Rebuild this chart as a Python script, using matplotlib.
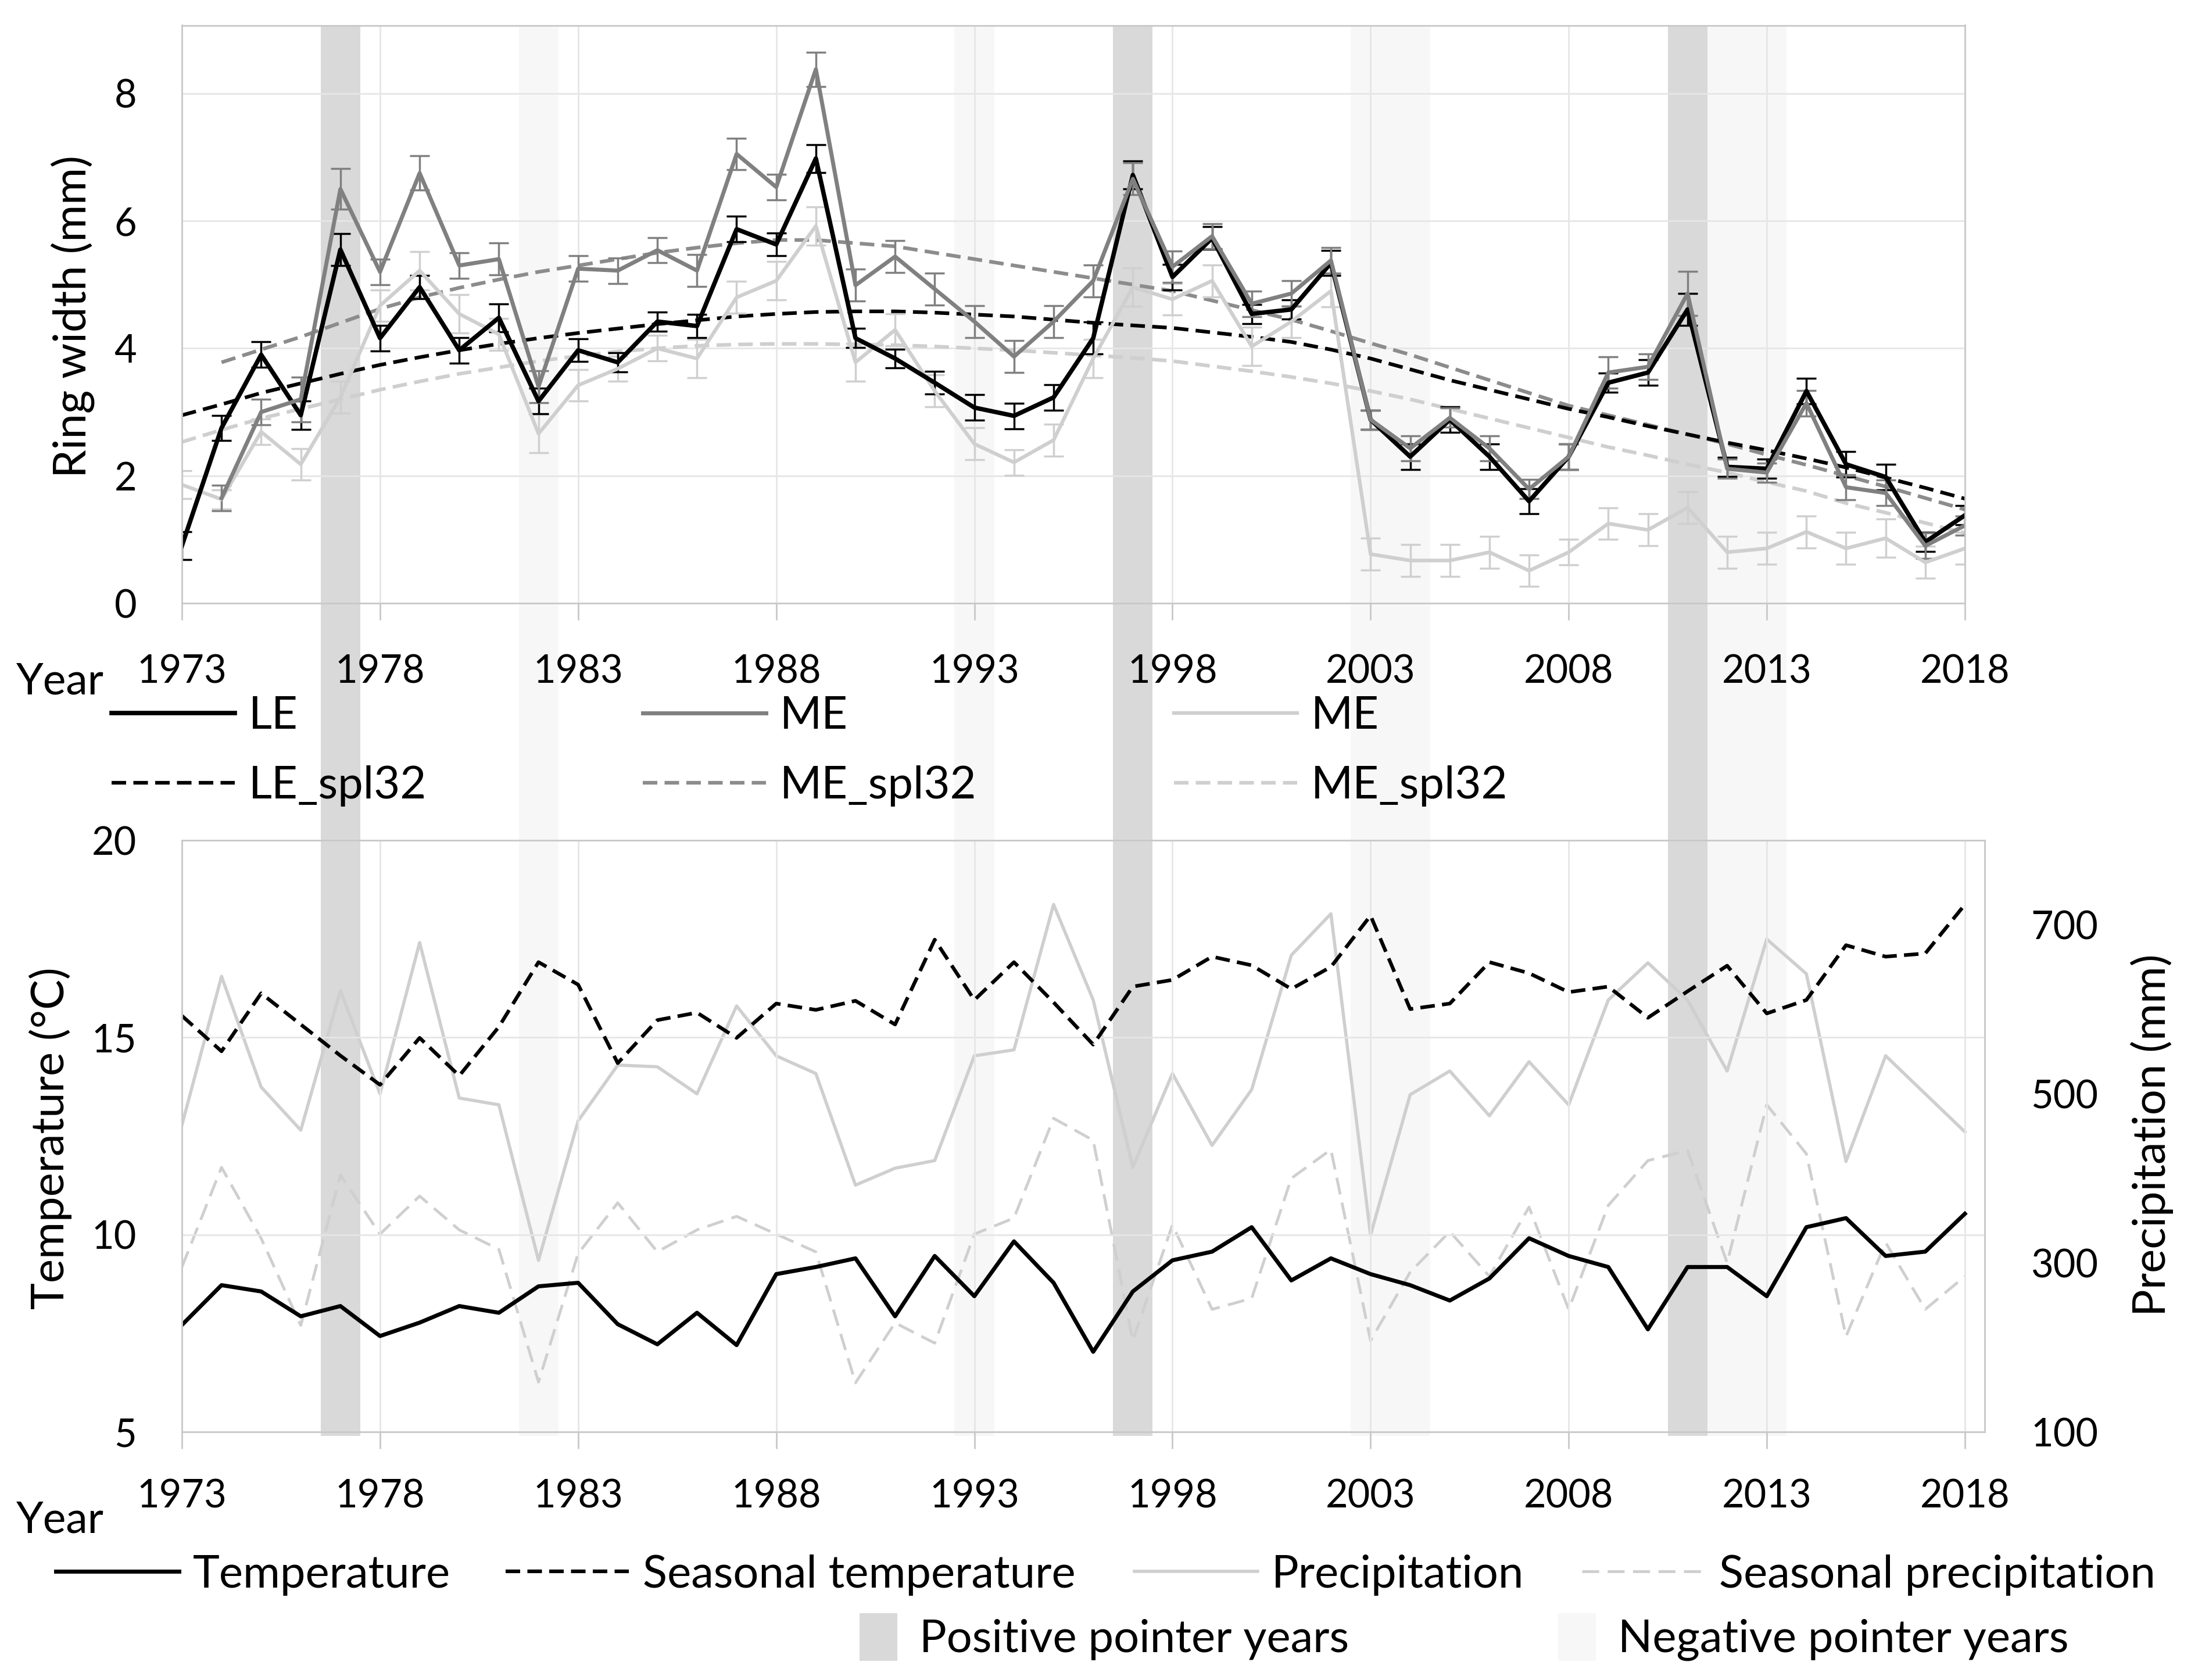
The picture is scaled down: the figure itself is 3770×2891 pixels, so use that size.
import numpy as np
import matplotlib.pyplot as plt
from matplotlib.lines import Line2D
from matplotlib.patches import Patch

plt.rcParams['font.family'] = ['Lato', 'DejaVu Sans']

W, H = 3770, 2891
FS = 48      # tick labels
FL = 56      # legend and axis titles

years = np.arange(1973, 2019)

# ring width (mm)
LE = [0.9, 2.75, 3.9, 2.95, 5.55, 4.16, 4.96, 3.97, 4.48, 3.17, 3.97, 3.78, 4.42, 4.35, 5.87,
      5.63, 6.98, 4.16, 3.84, 3.46, 3.07, 2.94, 3.23, 4.16, 6.72, 5.12, 5.73, 4.54, 4.61, 5.34,
      2.88, 2.3, 2.88, 2.3, 1.6, 2.3, 3.46, 3.62, 4.61, 2.14, 2.11, 3.33, 2.18, 1.98, 0.96, 1.38]
LE_err = [0.22, 0.2, 0.2, 0.22, 0.25, 0.2, 0.18, 0.2, 0.22, 0.2, 0.18, 0.15, 0.15, 0.18, 0.2,
          0.18, 0.22, 0.15, 0.15, 0.18, 0.2, 0.2, 0.2, 0.25, 0.22, 0.2, 0.18, 0.15, 0.15, 0.2,
          0.15, 0.2, 0.2, 0.2, 0.2, 0.2, 0.15, 0.2, 0.25, 0.15, 0.15, 0.2, 0.2, 0.2, 0.15, 0.15]
ME = [np.nan, 1.65, 3.0, 3.2, 6.5, 5.2, 6.75, 5.3, 5.4, 3.4, 5.25, 5.22, 5.54, 5.22, 7.05,
      6.53, 8.38, 4.99, 5.44, 4.93, 4.42, 3.87, 4.42, 5.06, 6.66, 5.28, 5.76, 4.7, 4.86, 5.38,
      2.88, 2.43, 2.91, 2.43, 1.79, 2.3, 3.62, 3.71, 4.86, 2.11, 2.05, 3.14, 1.82, 1.73, 0.9, 1.22]
ME_err = [0.0, 0.2, 0.2, 0.35, 0.32, 0.2, 0.27, 0.2, 0.25, 0.25, 0.2, 0.2, 0.2, 0.25, 0.25,
          0.2, 0.27, 0.25, 0.25, 0.25, 0.25, 0.25, 0.25, 0.25, 0.25, 0.25, 0.2, 0.2, 0.2, 0.2,
          0.15, 0.2, 0.15, 0.2, 0.15, 0.2, 0.25, 0.2, 0.35, 0.15, 0.15, 0.2, 0.2, 0.2, 0.2, 0.15]
ME2 = [1.86, 1.63, 2.69, 2.18, 3.23, 4.67, 5.22, 4.54, 4.22, 2.66, 3.42, 3.68, 4.0, 3.84, 4.8,
       5.06, 5.92, 3.78, 4.29, 3.33, 2.5, 2.21, 2.56, 3.84, 4.96, 4.77, 5.06, 4.03, 4.42, 4.9,
       0.77, 0.67, 0.67, 0.8, 0.51, 0.8, 1.25, 1.15, 1.5, 0.8, 0.86, 1.12, 0.86, 1.02, 0.64, 0.86]
ME2_err = [0.22, 0.15, 0.2, 0.25, 0.25, 0.25, 0.3, 0.3, 0.25, 0.3, 0.25, 0.2, 0.2, 0.3, 0.25,
           0.3, 0.3, 0.3, 0.25, 0.25, 0.25, 0.2, 0.25, 0.3, 0.3, 0.25, 0.25, 0.3, 0.25, 0.25,
           0.25, 0.25, 0.25, 0.25, 0.25, 0.2, 0.25, 0.25, 0.25, 0.25, 0.25, 0.25, 0.25, 0.3, 0.25, 0.25]

# 32-year splines
LE_spl = [2.95, 3.12, 3.3, 3.45, 3.6, 3.74, 3.86, 3.97, 4.07, 4.16, 4.24, 4.31, 4.38, 4.44, 4.5,
          4.54, 4.57, 4.58, 4.58, 4.56, 4.53, 4.5, 4.45, 4.4, 4.36, 4.32, 4.25, 4.18, 4.1, 3.98,
          3.84, 3.67, 3.5, 3.35, 3.2, 3.05, 2.92, 2.78, 2.65, 2.52, 2.4, 2.27, 2.13, 1.97, 1.81, 1.64]
ME_spl = [np.nan, 3.78, 3.98, 4.18, 4.4, 4.62, 4.8, 4.95, 5.08, 5.2, 5.3, 5.4, 5.5, 5.58, 5.65,
          5.7, 5.7, 5.65, 5.6, 5.5, 5.4, 5.3, 5.2, 5.1, 5.0, 4.9, 4.75, 4.6, 4.45, 4.27,
          4.08, 3.9, 3.7, 3.5, 3.3, 3.1, 2.95, 2.8, 2.65, 2.5, 2.33, 2.17, 2.0, 1.83, 1.65, 1.47]
ME2_spl = [2.53, 2.72, 2.9, 3.05, 3.2, 3.35, 3.48, 3.6, 3.7, 3.8, 3.88, 3.95, 4.0, 4.04, 4.06,
           4.07, 4.07, 4.06, 4.05, 4.03, 4.0, 3.97, 3.93, 3.89, 3.85, 3.8, 3.72, 3.64, 3.55, 3.45,
           3.33, 3.2, 3.05, 2.9, 2.75, 2.6, 2.45, 2.32, 2.18, 2.05, 1.9, 1.76, 1.57, 1.42, 1.26, 1.1]

# climate
temp = [7.71, 8.72, 8.56, 7.93, 8.19, 7.43, 7.77, 8.19, 8.02, 8.69, 8.78, 7.73, 7.22, 8.02, 7.2,
        9.0, 9.18, 9.4, 7.93, 9.46, 8.44, 9.83, 8.78, 7.03, 8.56, 9.35, 9.57, 10.19, 8.84, 9.4,
        9.0, 8.72, 8.33, 8.89, 9.91, 9.46, 9.18, 7.6, 9.18, 9.18, 8.44, 10.19, 10.42, 9.46, 9.57, 10.53]
temp_seas = [15.55, 14.65, 16.12, 15.33, 14.54, 13.8, 14.99, 14.03, 15.27, 16.91, 16.34, 14.35, 15.44, 15.63, 14.99,
             15.86, 15.7, 15.93, 15.33, 17.48, 15.95, 16.91, 15.89, 14.82, 16.29, 16.46, 17.05, 16.83, 16.23, 16.79,
             18.09, 15.72, 15.86, 16.91, 16.63, 16.15, 16.29, 15.5, 16.17, 16.82, 15.61, 15.95, 17.34, 17.05, 17.13, 18.37]
prec = [463, 639, 508, 457, 622, 500, 679, 495, 487, 303, 468, 534, 532, 500, 604,
        545, 524, 392, 412, 421, 545, 552, 724, 611, 413, 524, 439, 505, 664, 713,
        333, 499, 527, 474, 538, 487, 611, 655, 611, 527, 683, 642, 420, 545, 500, 455]
prec_seas = [295, 413, 329, 226, 404, 334, 379, 339, 316, 159, 311, 371, 313, 339, 355,
             334, 313, 158, 229, 205, 334, 353, 471, 445, 208, 345, 245, 258, 400, 434,
             208, 289, 337, 284, 366, 245, 368, 421, 433, 300, 487, 429, 213, 324, 245, 284]

positive_years = [1977, 1997, 2011]
negative_years = [1982, 1993, 2003, 2004, 2012, 2013]

BLACK = '#000000'
DARK = '#808080'
LIGHT = '#cfcfcf'
GRID = '#e6e6e6'
SPINE = '#c8c8c8'
POS = '#d9d9d9'
NEG = '#f7f7f7'

fig = plt.figure(figsize=(W / 100, H / 100), dpi=100)

# pointer-year bands behind both panels
ax_bg = fig.add_axes([313 / W, 1 - 2471 / H, (3381 - 313) / W, (2471 - 43.5) / H], zorder=0)
ax_bg.set_xlim(1973, 2018)
ax_bg.set_ylim(0, 1)
ax_bg.axis('off')
for y in positive_years:
    ax_bg.axvspan(y - 0.5, y + 0.5, color=POS, lw=0)
for y in negative_years:
    ax_bg.axvspan(y - 0.5, y + 0.5, color=NEG, lw=0)


def style(ax, xpad):
    ax.patch.set_alpha(0)
    for s in ax.spines.values():
        s.set_color(SPINE)
        s.set_linewidth(2)
    ax.grid(True, color=GRID, lw=2)
    ax.set_axisbelow(True)
    ax.set_xticks(range(1973, 2019, 5))
    ax.tick_params(axis='x', length=21, width=2, color=SPINE, pad=xpad, labelsize=FS)
    ax.tick_params(axis='y', length=0, pad=56, labelsize=FS)


# ---- ring width panel
ax1 = fig.add_axes([313 / W, 1 - 1038 / H, (3381 - 313) / W, (1038 - 43.5) / H], zorder=1)
style(ax1, 42)
ax1.set_xlim(1973, 2018)
ax1.set_ylim(0, 9.07)
ax1.set_yticks([0, 2, 4, 6, 8])

dash = (0, (4, 2))
ax1.plot(years, ME2_spl, color=LIGHT, lw=4.5, ls=dash)
ax1.plot(years, ME_spl, color='#8c8c8c', lw=4.5, ls=dash)
ax1.plot(years, LE_spl, color=BLACK, lw=4.5, ls=dash)
ax1.errorbar(years, ME2, yerr=ME2_err, color=LIGHT, lw=4.5, elinewidth=2.5, capsize=12, capthick=2.5)
ax1.errorbar(years, LE, yerr=LE_err, color=BLACK, lw=5.5, elinewidth=2.5, capsize=12, capthick=2.5)
ax1.errorbar(years, ME, yerr=ME_err, color=DARK, lw=5, elinewidth=2.5, capsize=12, capthick=2.5)

ax1.set_ylabel('Ring width (mm)', fontsize=FL, va='center')
ax1.yaxis.set_label_coords(-0.0613, 0.4957)
ax1.set_xlabel('Year', fontsize=FL - 2, va='center')
ax1.xaxis.set_label_coords(-0.0684, -0.1357)

# ---- climate panel
ax2 = fig.add_axes([313 / W, 1 - 2464 / H, (3415 - 313) / W, (2464 - 1446) / H], zorder=1)
style(ax2, 37)
ax2.set_xlim(1973, 2018.5)
ax2.set_ylim(5, 20)
ax2.set_yticks([5, 10, 15, 20])

ax3 = ax2.twinx()
ax3.patch.set_alpha(0)
for s in ax3.spines.values():
    s.set_visible(False)
ax3.set_ylim(100, 800)
ax3.set_yticks([100, 300, 500, 700])
ax3.tick_params(axis='y', length=0, pad=57, labelsize=FS)

ax3.plot(years, prec_seas, color=LIGHT, lw=3.5, ls=(0, (6, 3)))
ax3.plot(years, prec, color=LIGHT, lw=4)
ax2.set_zorder(2)
ax3.set_zorder(1)
ax2.plot(years, temp_seas, color=BLACK, lw=4.5, ls=dash)
ax2.plot(years, temp, color=BLACK, lw=5)

ax2.set_ylabel('Temperature (°C)', fontsize=FL, va='center')
ax2.yaxis.set_label_coords(-0.0729, 0.496)
ax3.set_ylabel('Precipitation (mm)', fontsize=FL, va='center', rotation=90)
ax3.yaxis.set_label_coords(1.0929, 0.502)
ax2.set_xlabel('Year', fontsize=FL - 2, va='center')
ax2.xaxis.set_label_coords(-0.0677, -0.1493)


# ---- legends
def add_key(handle, label, x, y, **kw):
    opts = dict(handlelength=2.72, handletextpad=0.31)
    opts.update(kw)
    fig.legend([handle], [label], loc='center left', bbox_to_anchor=(x / W, 1 - y / H),
               bbox_transform=fig.transFigure, frameon=False, borderpad=0,
               borderaxespad=0, fontsize=FL, **opts)


add_key(Line2D([], [], color=BLACK, lw=5.5), 'LE', 192, 1233)
add_key(Line2D([], [], color=DARK, lw=5), 'ME', 1106, 1233)
add_key(Line2D([], [], color=LIGHT, lw=4.5), 'ME', 2020, 1233)
add_key(Line2D([], [], color=BLACK, lw=4.5, ls=dash), 'LE_spl32', 192, 1353)
add_key(Line2D([], [], color='#8c8c8c', lw=4.5, ls=dash), 'ME_spl32', 1106, 1353)
add_key(Line2D([], [], color=LIGHT, lw=4.5, ls=dash), 'ME_spl32', 2020, 1353)

add_key(Line2D([], [], color=BLACK, lw=5), 'Temperature', 96, 2710)
add_key(Line2D([], [], color=BLACK, lw=4.5, ls=dash), 'Seasonal temperature', 870, 2710)
add_key(Line2D([], [], color=LIGHT, lw=4), 'Precipitation', 1952, 2710)
add_key(Line2D([], [], color=LIGHT, lw=3.5, ls=(0, (6, 3))), 'Seasonal precipitation', 2722, 2710)
add_key(Patch(color=POS, lw=0), 'Positive pointer years', 1479, 2817,
        handlelength=0.84, handleheight=1.25, handletextpad=0.49)
add_key(Patch(color=NEG, lw=0), 'Negative pointer years', 2681, 2817,
        handlelength=0.84, handleheight=1.25, handletextpad=0.49)

fig.savefig('out.png', dpi=100)
